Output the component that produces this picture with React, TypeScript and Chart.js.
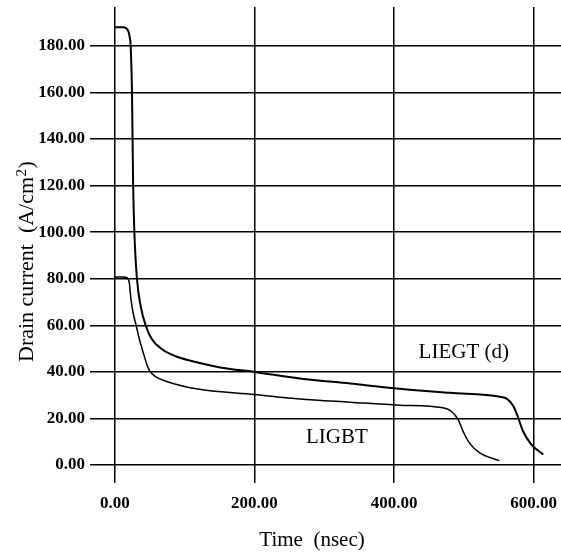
import { useEffect, useRef } from "react";
import { Chart, registerables } from "chart.js";

Chart.register(...registerables);

// ---- data ----
const xTicks = [0, 200, 400, 600];
const yTicks = [0, 20, 40, 60, 80, 100, 120, 140, 160, 180];

const liegtTime = [0, 12, 16, 19, 21, 22.5, 24.4, 26, 27.8, 31.5, 37, 44, 53, 68, 87, 120, 153, 200, 265, 337, 408, 480, 552, 562, 571, 578, 585, 597, 614];
const liegtCurrent = [188, 188, 187.6, 186.5, 184, 180, 160, 121, 100, 80, 68, 60, 54, 49.6, 46.7, 43.9, 41.8, 40, 37.2, 35, 32.8, 31, 29.3, 28.4, 25.3, 20.3, 14.5, 8.8, 4.5];

const ligbtTime = [0, 12, 17, 20.5, 23, 26, 30, 35, 40.6, 46, 50, 58, 73, 121, 200, 265, 337, 408, 470, 482, 492, 499, 508, 523, 551];
const ligbtCurrent = [80.8, 80.8, 80.5, 78.3, 71, 65.4, 60.4, 54, 48.2, 43, 40.3, 38, 36, 32.5, 30.3, 28.4, 27, 25.7, 24.6, 23.1, 19.5, 14.5, 9.5, 5.2, 1.9];

const curveLabels = ["LIEGT (d)", "LIGBT"];
const curveLabelTime = [500, 318];
const curveLabelCurrent = [48.5, 12];

const xTitle = "Time  (nsec)";
const yTitleMain = "Drain current  (A/cm";
const yTitleSup = "2";
const yTitleEnd = ")";

const FONT = '"Liberation Serif", "Times New Roman", serif';

const textPlugin = {
  id: "textPlugin",
  afterDraw(chart: any) {
    const ctx = chart.ctx as CanvasRenderingContext2D;
    const xs = chart.scales.x;
    const ys = chart.scales.y;
    ctx.save();
    ctx.fillStyle = "#000";
    // curve labels
    ctx.font = `21px ${FONT}`;
    ctx.textAlign = "center";
    ctx.textBaseline = "middle";
    curveLabels.forEach((t, i) => {
      ctx.fillText(t, xs.getPixelForValue(curveLabelTime[i]), ys.getPixelForValue(curveLabelCurrent[i]));
    });
    // x title
    ctx.font = `21px ${FONT}`;
    ctx.textAlign = "center";
    ctx.textBaseline = "alphabetic";
    ctx.fillText(xTitle, 312, 546);
    // y title (rotated)
    ctx.translate(33, 362);
    ctx.rotate(-Math.PI / 2);
    ctx.textAlign = "left";
    ctx.font = `22px ${FONT}`;
    ctx.fillText(yTitleMain, 0, 0);
    const w1 = ctx.measureText(yTitleMain).width;
    ctx.font = `15px ${FONT}`;
    ctx.fillText(yTitleSup, w1 + 0.5, -7);
    const w2 = ctx.measureText(yTitleSup).width;
    ctx.font = `22px ${FONT}`;
    ctx.fillText(yTitleEnd, w1 + w2 + 1, 0);
    ctx.restore();
  },
};

export default function App() {
  const ref = useRef<HTMLCanvasElement | null>(null);

  useEffect(() => {
    if (!ref.current) return;
    const chart = new Chart(ref.current, {
      type: "line",
      data: {
        datasets: [
          {
            label: "LIEGT (d)",
            data: liegtTime.map((t, i) => ({ x: t, y: liegtCurrent[i] })),
            borderColor: "#000",
            borderWidth: 2,
            pointRadius: 0,
            cubicInterpolationMode: "monotone",
            fill: false,
          },
          {
            label: "LIGBT",
            data: ligbtTime.map((t, i) => ({ x: t, y: ligbtCurrent[i] })),
            borderColor: "#000",
            borderWidth: 1.5,
            pointRadius: 0,
            cubicInterpolationMode: "monotone",
            fill: false,
          },
        ],
      },
      options: {
        animation: false,
        responsive: false,
        devicePixelRatio: 1,
        layout: { padding: { top: 7, left: 0, right: 0, bottom: 0 } },
        plugins: { legend: { display: false }, tooltip: { enabled: false } },
        scales: {
          x: {
            type: "linear",
            min: -35.8,
            max: 639.4,
            afterBuildTicks: (s: any) => {
              s.ticks = xTicks.map((v) => ({ value: v }));
            },
            afterFit: (s: any) => {
              s.height = 70;
              s.paddingLeft = 0;
              s.paddingRight = 0;
            },
            ticks: {
              color: "#000",
              font: { family: FONT, size: 17, weight: "bold" },
              padding: 10,
              maxRotation: 0,
              autoSkip: false,
              callback: (v: any) => Number(v).toFixed(2),
            },
            grid: { color: "#000", lineWidth: 1.5, drawTicks: false },
            border: { display: false },
          },
          y: {
            type: "linear",
            min: -7.73,
            max: 196.75,
            afterBuildTicks: (s: any) => {
              s.ticks = yTicks.map((v) => ({ value: v }));
            },
            afterFit: (s: any) => {
              s.width = 90;
              s.paddingTop = 0;
              s.paddingBottom = 0;
            },
            ticks: {
              color: "#000",
              font: { family: FONT, size: 17, weight: "bold" },
              padding: 5,
              autoSkip: false,
              callback: (v: any) => Number(v).toFixed(2),
            },
            grid: { color: "#000", lineWidth: 1.5, drawTicks: false },
            border: { display: false },
          },
        },
      },
      plugins: [textPlugin],
    });
    return () => chart.destroy();
  }, []);

  return (
    <div style={{ position: "fixed", left: 0, top: 0, width: 561, height: 553, background: "#fff" }}>
      <canvas ref={ref} width={561} height={553} style={{ width: 561, height: 553, display: "block" }} />
    </div>
  );
}
